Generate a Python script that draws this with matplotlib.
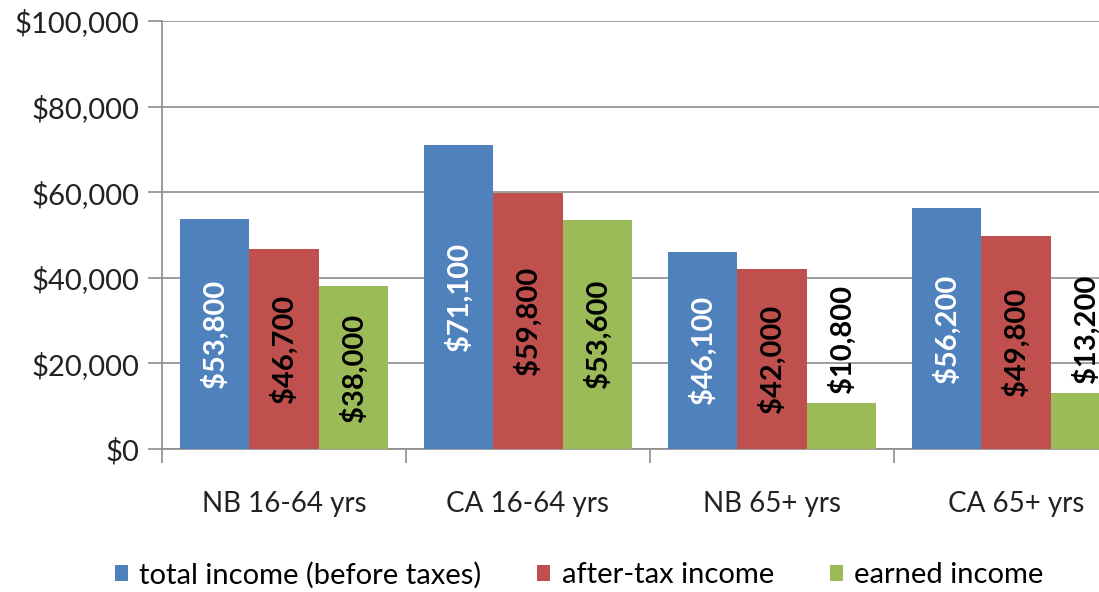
import numpy as np
import matplotlib
matplotlib.use('Agg')
import matplotlib.pyplot as plt
from matplotlib.ticker import FuncFormatter

# Dados
categorias = ['NB 16-64 yrs', 'CA 16-64 yrs', 'NB 65+ yrs', 'CA 65+ yrs']
series = ['total income (before taxes)', 'after-tax income', 'earned income']
total_income = [53800, 71100, 46100, 56200]
after_tax = [46700, 59800, 42000, 49800]
earned = [38000, 53600, 10800, 13200]
cores = ['#4F81BD', '#C0504D', '#9BBB59']
cores_texto = ['white', 'black', 'black']

plt.rcParams['font.family'] = ['Lato', 'DejaVu Sans']

fig = plt.figure(figsize=(10.99, 5.92), dpi=100)
ax = fig.add_axes([162 / 1099, 1 - 449 / 592, 976 / 1099, 428 / 592])

x = np.arange(len(categorias))
largura = 0.285
valores = [total_income, after_tax, earned]
for i, (vals, cor, cor_txt, nome) in enumerate(zip(valores, cores, cores_texto, series)):
    pos = x + (i - 1) * largura
    ax.bar(pos, vals, width=largura, color=cor, label=nome, zorder=3)
    for p, v in zip(pos, vals):
        txt = '${:,}'.format(v)
        if v > 20000:
            ax.text(p, v / 2, txt, rotation=90, ha='center', va='center',
                    color=cor_txt, fontsize=21, fontweight='bold', zorder=4)
        else:
            ax.text(p, v + 2300, txt, rotation=90, ha='center', va='bottom',
                    color=cor_txt, fontsize=21, fontweight='bold', zorder=4)

ax.set_xlim(-0.5, len(categorias) - 0.5)
ax.set_ylim(0, 100000)
ax.set_yticks(np.arange(0, 100001, 20000))
ax.yaxis.set_major_formatter(FuncFormatter(lambda v, _: '${:,.0f}'.format(v)))
ax.yaxis.grid(True, color='#8c8c8c', linewidth=1.2, zorder=0)

ax.set_xticks(np.arange(-0.5, len(categorias), 1))
ax.set_xticklabels([])
ax.set_xticks(x, minor=True)
ax.set_xticklabels(categorias, minor=True, fontsize=20)
ax.tick_params(axis='x', which='minor', length=0, pad=30)
ax.tick_params(axis='x', which='major', length=10, color='#8c8c8c', width=1.2)
ax.tick_params(axis='y', length=10, color='#8c8c8c', width=1.2, labelsize=21, pad=6,
               labelcolor='#222222')
ax.tick_params(axis='x', which='both', labelcolor='#222222')

for lado in ['top', 'right']:
    ax.spines[lado].set_visible(False)
for lado in ['left', 'bottom']:
    ax.spines[lado].set_color('#8c8c8c')
    ax.spines[lado].set_linewidth(1.2)

fig.legend(loc='center', bbox_to_anchor=(0.527, 1 - 575 / 592), ncol=3, frameon=False,
           fontsize=21, handlelength=0.45, handleheight=0.45, handletextpad=0.4,
           columnspacing=1.9)

fig.savefig('out.png', dpi=100)
